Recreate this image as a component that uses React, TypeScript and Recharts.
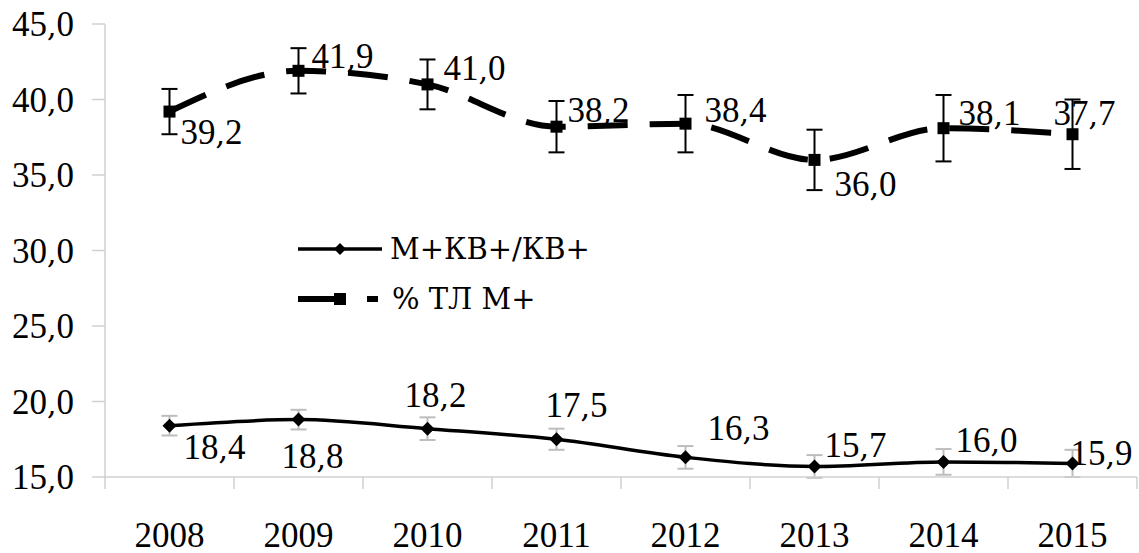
import { LineChart, Line, XAxis, YAxis, ErrorBar, LabelList, Legend } from "recharts";

const years = ["2008", "2009", "2010", "2011", "2012", "2013", "2014", "2015"];
const ratioValues = [18.4, 18.8, 18.2, 17.5, 16.3, 15.7, 16.0, 15.9];
const ratioErrors = [0.65, 0.65, 0.75, 0.7, 0.75, 0.75, 0.85, 0.9];
const tlValues = [39.2, 41.9, 41.0, 38.2, 38.4, 36.0, 38.1, 37.7];
const tlErrors = [1.5, 1.5, 1.65, 1.7, 1.9, 2.0, 2.2, 2.3];
const yTicks = [15, 20, 25, 30, 35, 40, 45];

const ratioName = "М+КВ+/КВ+";
const tlName = "% ТЛ М+";

// label placement (text centre relative to the point)
const ratioLabelOffsets = [[45, 21], [14, 36], [8, -34], [20, -35], [53, -30], [41, -22], [43, -22], [29, -11]];
const tlLabelOffsets = [[42, 20], [44, -15], [47, -17], [42, -17], [50, -14], [51, 24], [46, -15], [12, -21]];

const data = years.map((year, i) => ({
  year,
  ratio: ratioValues[i],
  ratioErr: ratioErrors[i],
  tl: tlValues[i],
  tlErr: tlErrors[i],
}));

const SERIF = "Times New Roman";
const ALT = "DejaVu Serif";
const AXIS_GRAY = "#d0d0d0";
const W = 1139;
const H = 553;
const PLOT_LEFT = 105;
const PLOT_RIGHT = 2;
const BAND = (W - PLOT_LEFT - PLOT_RIGHT) / years.length;

// "39,2" split so the comma gets its own font run
const Num = ({ v }: { v: number }) => {
  const [a, b] = v.toFixed(1).split(".");
  return (
    <>
      <tspan fontFamily={SERIF}>{a}</tspan>
      <tspan fontFamily={ALT} fontSize={30}>,</tspan>
      <tspan fontFamily={SERIF}>{b}</tspan>
    </>
  );
};

const Diamond = (props: any) => {
  const { cx, cy } = props;
  if (cx == null || cy == null) return null;
  return <polygon points={`${cx},${cy - 7} ${cx + 7},${cy} ${cx},${cy + 7} ${cx - 7},${cy}`} fill="#000" />;
};

const Square = (props: any) => {
  const { cx, cy } = props;
  if (cx == null || cy == null) return null;
  return <rect x={cx - 6} y={cy - 6} width={12} height={12} fill="#000" />;
};

const makeLabel = (offsets: number[][]) => (props: any) => {
  const { x, y, index, value } = props;
  const [dx, dy] = offsets[index] || [0, 0];
  return (
    <text x={x + dx} y={y + dy} dy="0.35em" textAnchor="middle" fontFamily={SERIF} fontSize={35} fill="#000">
      <Num v={Number(value)} />
    </text>
  );
};

const XTick = (props: any) => {
  const { x, y, payload, index } = props;
  return (
    <g>
      {index === 0 && <line x1={x - BAND / 2} y1={y} x2={x - BAND / 2} y2={y + 12} stroke={AXIS_GRAY} strokeWidth={1.5} />}
      <line x1={x + BAND / 2} y1={y} x2={x + BAND / 2} y2={y + 12} stroke={AXIS_GRAY} strokeWidth={1.5} />
      <text x={x} y={y + 58} dy="0.35em" textAnchor="middle" fontFamily={SERIF} fontSize={35} fill="#000">
        {payload.value}
      </text>
    </g>
  );
};

const YTick = (props: any) => {
  const { x, y, payload } = props;
  return (
    <text x={x} y={y} dy="0.35em" textAnchor="end" fontFamily={SERIF} fontSize={35} fill="#000">
      <Num v={Number(payload.value)} />
    </text>
  );
};

const renderLegend = () => (
  <svg width={380} height={95} style={{ display: "block" }}>
    <line x1={8} y1={19} x2={92} y2={19} stroke="#000" strokeWidth={3.5} />
    <polygon points="50,13 56,19 50,25 44,19" fill="#000" />
    <text x={100} y={19} dy="0.35em" fontFamily={ALT} fontSize={29} fill="#000">
      {ratioName}
    </text>
    <line x1={8} y1={69} x2={55} y2={69} stroke="#000" strokeWidth={6} />
    <rect x={44} y={63} width={12} height={12} fill="#000" />
    <line x1={77} y1={69} x2={88} y2={69} stroke="#000" strokeWidth={6} />
    <text x={102} y={69} dy="0.35em" fontFamily={ALT} fontSize={29} fill="#000">
      {tlName}
    </text>
  </svg>
);

export default function App() {
  return (
    <div style={{ position: "absolute", left: 0, top: 0, width: W, height: H, background: "#fff" }}>
      <LineChart width={W} height={H} data={data} margin={{ top: 24, right: PLOT_RIGHT, bottom: 0, left: 0 }}>
        <XAxis
          dataKey="year"
          height={76}
          stroke={AXIS_GRAY}
          strokeWidth={1.5}
          tickLine={false}
          tickSize={0}
          tickMargin={0}
          interval={0}
          padding={{ left: BAND / 2, right: BAND / 2 }}
          tick={<XTick />}
        />
        <YAxis
          width={PLOT_LEFT}
          domain={[15, 45]}
          ticks={yTicks}
          stroke={AXIS_GRAY}
          strokeWidth={1.5}
          tickSize={13}
          tickMargin={18}
          tick={<YTick />}
          allowDataOverflow
        />
        <Legend
          layout="vertical"
          align="center"
          verticalAlign="middle"
          content={renderLegend}
          wrapperStyle={{ left: 290, top: 230, width: 380, height: 95 }}
        />
        <Line
          dataKey="ratio"
          name={ratioName}
          type="monotone"
          stroke="#000"
          strokeWidth={3.5}
          dot={<Diamond />}
          activeDot={false}
          isAnimationActive={false}
        >
          <ErrorBar dataKey="ratioErr" width={8} stroke="#bdbdbd" strokeWidth={2} direction="y" isAnimationActive={false} />
          <LabelList dataKey="ratio" content={makeLabel(ratioLabelOffsets)} />
        </Line>
        <Line
          dataKey="tl"
          name={tlName}
          type="monotone"
          stroke="#000"
          strokeWidth={6}
          strokeDasharray="40 22"
          dot={<Square />}
          activeDot={false}
          isAnimationActive={false}
        >
          <ErrorBar dataKey="tlErr" width={8} stroke="#000" strokeWidth={2} direction="y" isAnimationActive={false} />
          <LabelList dataKey="tl" content={makeLabel(tlLabelOffsets)} />
        </Line>
      </LineChart>
    </div>
  );
}
